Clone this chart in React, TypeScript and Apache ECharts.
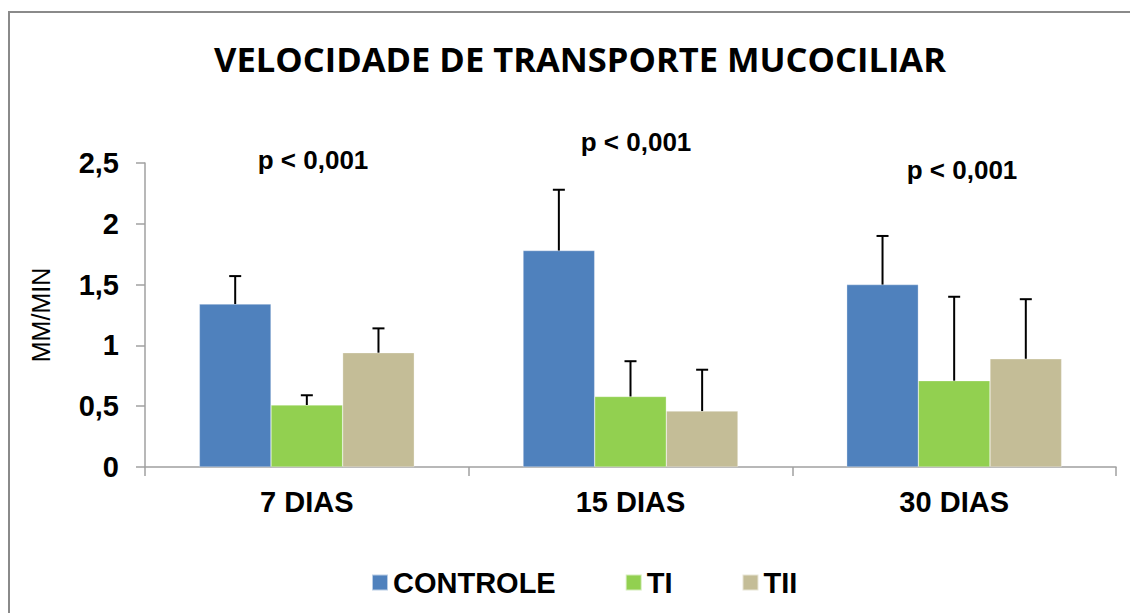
import React, { useEffect, useRef } from "react";
import * as echarts from "echarts";

const categories = ["7 DIAS", "15 DIAS", "30 DIAS"];
const seriesNames = ["CONTROLE", "TI", "TII"];
const controle = [1.34, 1.78, 1.5];
const ti = [0.51, 0.58, 0.71];
const tii = [0.94, 0.46, 0.89];
const controleSd = [0.23, 0.5, 0.4];
const tiSd = [0.08, 0.29, 0.69];
const tiiSd = [0.2, 0.34, 0.49];
const pLabels = ["p < 0,001", "p < 0,001", "p < 0,001"];
const colors = ["#4F81BD", "#92D050", "#C4BD97"];

const GAP = 0.336;

export default function App() {
  const ref = useRef<HTMLDivElement>(null);
  useEffect(() => {
    document.body.style.margin = "0";
    const chart = echarts.init(ref.current!, null, { renderer: "svg" });
    const values = [controle, ti, tii];
    const sds = [controleSd, tiSd, tiiSd];
    const bars = values.map((v, i) => ({
      name: seriesNames[i],
      type: "bar",
      data: v,
      barGap: "0%",
      barCategoryGap: GAP * 100 + "%",
      itemStyle: { color: colors[i], borderColor: "rgba(255,255,255,0.6)", borderWidth: 0.5 },
      z: 2,
    }));
    const errs = values.map((v, i) => ({
      type: "custom",
      name: seriesNames[i] + "_err",
      z: 3,
      silent: true,
      data: v.map((val, k) => [k, val, val + sds[i][k]]),
      renderItem: (params: any, api: any) => {
        const k = api.value(0);
        const base = api.coord([k, api.value(1)]);
        const top = api.coord([k, api.value(2)]);
        const band = api.size([1, 0])[0];
        const bw = (band * (1 - GAP)) / 3;
        const x = base[0] + (i - 1) * bw;
        const cap = 6;
        const style = { stroke: "#000", lineWidth: 2 };
        return {
          type: "group",
          children: [
            { type: "line", shape: { x1: x, y1: base[1], x2: x, y2: top[1] }, style },
            { type: "line", shape: { x1: x - cap, y1: top[1], x2: x + cap, y2: top[1] }, style },
          ],
        };
      },
    }));
    const pPos = [
      [313, 160],
      [636, 142],
      [962, 170],
    ];
    chart.setOption({
      animation: false,
      title: {
        text: "VELOCIDADE DE TRANSPORTE MUCOCILIAR",
        left: 575,
        top: 36,
        textAlign: "center",
        textStyle: { fontFamily: "Open Sans", fontWeight: 700, fontSize: 34.5, color: "#000" },
      },
      legend: {
        left: 366,
        top: 563,
        itemWidth: 16,
        itemHeight: 16,
        itemGap: 69,
        icon: "rect",
        data: seriesNames,
        textStyle: { fontFamily: "Liberation Sans", fontWeight: "bold", fontSize: 29, color: "#000" },
      },
      grid: { left: 145, right: 14, top: 163, bottom: 146, containLabel: false },
      xAxis: {
        type: "category",
        data: categories,
        axisLine: { lineStyle: { color: "#A0A0A0", width: 1.5 } },
        axisTick: { show: true, length: 9, lineStyle: { color: "#A0A0A0", width: 1.5 } },
        axisLabel: {
          margin: 20,
          fontFamily: "Liberation Sans",
          fontWeight: "bold",
          fontSize: 29,
          color: "#000",
        },
      },
      yAxis: {
        type: "value",
        min: 0,
        max: 2.5,
        interval: 0.5,
        name: "MM/MIN",
        nameLocation: "middle",
        nameGap: 92,
        nameTextStyle: { fontFamily: "Liberation Sans", fontSize: 25, color: "#000" },
        splitLine: { show: false },
        axisLine: { show: true, lineStyle: { color: "#A0A0A0", width: 1.5 } },
        axisTick: { show: true, length: 9, lineStyle: { color: "#A0A0A0", width: 1.5 } },
        axisLabel: {
          margin: 26,
          fontFamily: "Liberation Sans",
          fontWeight: "bold",
          fontSize: 29,
          color: "#000",
          formatter: (v: number) => String(v).replace(".", ","),
        },
      },
      graphic: [
        {
          type: "rect",
          shape: { x: 9, y: 12, width: 1140, height: 620 },
          style: { fill: "none", stroke: "#8A8A8A", lineWidth: 2 },
          silent: true,
        },
        ...pLabels.map((t, i) => ({
          type: "text",
          x: pPos[i][0],
          y: pPos[i][1],
          style: {
            text: t,
            fill: "#000",
            font: "bold 26px 'Liberation Sans'",
            textAlign: "center",
            textVerticalAlign: "middle",
          },
        })),
      ],
      series: [...bars, ...errs],
    });
    return () => chart.dispose();
  }, []);
  return <div ref={ref} style={{ width: 1130, height: 613 }} />;
}
